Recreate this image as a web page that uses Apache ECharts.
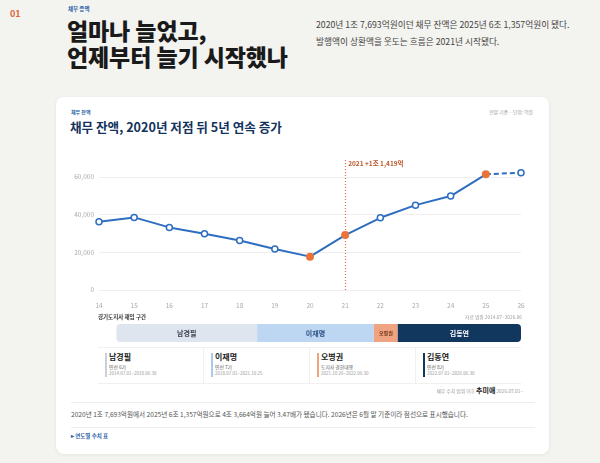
<!DOCTYPE html>
<html>
<head>
<meta charset="utf-8">
<script src="https://cdn.jsdelivr.net/npm/echarts@6/dist/echarts.min.js"></script>
<style>
	html, body { margin: 0; padding: 0; }
	body {
		width: 600px; height: 463px; overflow: hidden; position: relative;
		background: #f3f3ef;
		font-family: "Noto Sans CJK KR", "Noto Sans", sans-serif;
		color: #222;
	}
	.abs { position: absolute; white-space: nowrap; }
	#card {
		position: absolute; left: 56px; top: 97px; width: 493px; height: 357px;
		background: #fff; border-radius: 8px; box-shadow: 0 1px 4px rgba(0,0,0,0.06);
	}
	#main { position: absolute; left: 57px; top: 150px; width: 492px; height: 196px; }
	.rule { position: absolute; left: 71px; width: 464px; height: 1px; background: #eeeeee; }
	#terms { position: absolute; left: 98px; top: 347px; width: 423px; height: 35px;
		border-top: 1px solid #f0f0f0; border-bottom: 1px solid #f0f0f0; display: flex; }
	.term { flex: 1; position: relative; border-left: 1px solid #f0f0f0; }
	.term:first-child { border-left: none; }
	.term .bar { position: absolute; left: 7px; top: 5px; width: 1.5px; height: 24px; }
	.term .nm { position: absolute; left: 11px; top: 3px; font-size: 8px; font-weight: bold; color: #222; }
	.term .sub { position: absolute; left: 11px; top: 15px; font-size: 4.8px; color: #555; }
	.term .dt { position: absolute; left: 11px; top: 22px; font-size: 4.5px; color: #999; }
</style>
</head>
<body>
<div class="abs" style="left:10px;top:7px;font-size:9px;font-weight:bold;color:#e0683a;">01</div>
<div class="abs" style="left:68px;top:5px;font-size:5.5px;font-weight:bold;color:#2a5fa8;">채무 증액</div>
<div class="abs" style="left:67px;top:17px;font-size:23px;line-height:26px;font-weight:900;color:#1a1a1a;letter-spacing:-0.1px;">얼마나 늘었고,<br>언제부터 늘기 시작했나</div>
<div class="abs" style="left:316px;top:16px;font-size:8.7px;line-height:17px;color:#444;">2020년 1조 7,693억원이던 채무 잔액은 2025년 6조 1,357억원이 됐다.<br>발행액이 상환액을 웃도는 흐름은 2021년 시작됐다.</div>

<div id="card"></div>
<div class="abs" style="left:71px;top:108px;font-size:5px;font-weight:bold;color:#2a5fa8;">채무 잔액</div>
<div class="abs" style="left:70px;top:117px;font-size:12.6px;font-weight:bold;color:#13335c;">채무 잔액, 2020년 저점 뒤 5년 연속 증가</div>
<div class="abs" style="right:67px;top:108px;font-size:4.8px;color:#999;">연말 기준 · 단위: 억원</div>

<div id="main"></div>
<div class="abs" style="left:98px;top:313px;font-size:5.5px;font-weight:bold;color:#333;">경기도지사 재임 구간</div>
<div class="abs" style="right:78px;top:313px;font-size:4.8px;color:#999;">자료 범위 2014.07–2026.06</div>

<div id="terms"></div>
<div class="abs" style="right:77px;top:385px;font-size:4.8px;color:#999;">채무 수치 범위 이후 <b style="font-size:7px;color:#222;">추미애</b> 2026.07.01–</div>

<div class="rule" style="top:402px;"></div>
<div class="abs" style="left:71px;top:409px;font-size:6.6px;color:#555;">2020년 1조 7,693억원에서 2025년 6조 1,357억원으로 4조 3,664억원 늘어 3.47배가 됐습니다. 2026년은 6월 말 기준이라 점선으로 표시했습니다.</div>
<div class="rule" style="top:427px;"></div>
<div class="abs" style="left:71px;top:432px;font-size:5.5px;font-weight:bold;color:#2a5fa8;">▸ 연도별 수치 표</div>

<script>
	var years = ['14', '15', '16', '17', '18', '19', '20', '21', '22', '23', '24', '25', '26'];
	var debt = [36200, 38500, 33200, 29800, 26300, 21700, 17693, 29112, 38300, 45000, 49800, 61357, 62200]; //억원
	var yTicks = [0, 20000, 40000, 60000];
	var markYear = '21'; //발행액 > 상환액 시작
	var termNames = ['남경필', '이재명', '오병권', '김동연'];
	var termRoles = ['민선 6기', '민선 7기', '도지사 권한대행', '민선 8기'];
	var termStart = ['2014-07-01', '2018-07-01', '2021-10-26', '2022-07-01'];
	var termEnd = ['2018-06-30', '2021-10-25', '2022-06-30', '2026-06-30'];
	var termColors = ['#dfe5ee', '#bdd7f3', '#f0a380', '#12375f'];
	var termBarColors = ['#c9d0da', '#a9c9ee', '#eea37d', '#12375f'];
	var termText = ['#3a4250', '#2a4f80', '#6a3014', '#ffffff'];

	var blue = '#2e6ec0', orange = '#e8743b';
	var yMax = 70000;
	var minIdx = debt.indexOf(Math.min.apply(null, debt));
	var markIdx = years.indexOf(markYear);
	var lastFull = years.length - 2; //마지막 해는 6월 말 기준

	// 날짜 -> 축 값 (14.5 = 2014년 7월)
	function toAxis(str, nextDay) {
		var p = str.split('-');
		var d = new Date(+p[0], +p[1] - 1, +p[2] + (nextDay ? 1 : 0));
		var y = d.getFullYear();
		var s = new Date(y, 0, 1), e = new Date(y + 1, 0, 1);
		return y - 2000 + (d - s) / (e - s);
	}
	function jo(v) { //억 -> "1조 1,419억"
		var j = Math.floor(v / 10000), r = v % 10000;
		return (j ? j + '조 ' : '') + r.toLocaleString('en-US') + '억';
	}

	// 하단 카드
	var html = '';
	termNames.forEach(function(n, i) {
		html += '<div class="term"><div class="bar" style="background:' + termBarColors[i] + '"></div>' +
			'<div class="nm">' + n + '</div><div class="sub">' + termRoles[i] + '</div>' +
			'<div class="dt">' + termStart[i].replace(/-/g, '.') + '–' + termEnd[i].replace(/-/g, '.') + '</div></div>';
	});
	document.getElementById('terms').innerHTML = html;

	var solidData = debt.map(function(v, i) {
		if(i > lastFull) return '-';
		var hi = (i === minIdx || i === markIdx || i === lastFull);
		return {
			value: v,
			symbolSize: hi ? 8 : 6,
			itemStyle: hi ? { color: orange, borderColor: orange, borderWidth: 0 } : { color: '#fff', borderColor: blue, borderWidth: 1.5 }
		};
	});
	var dashData = debt.map(function(v, i) {
		if(i < lastFull) return '-';
		if(i === lastFull) return { value: v, symbolSize: 0 };
		return v;
	});
	var bandData = termNames.map(function(n, i) {
		return [toAxis(termStart[i]), toAxis(termEnd[i], true), i];
	});

	var myChart = echarts.init(document.getElementById('main'), null, { renderer: 'canvas' });
	var option = {
		animation: false,
		textStyle: { fontFamily: '"Noto Sans CJK KR", "Noto Sans", sans-serif' },
		grid: [
			{ left: 42, top: 8, width: 422, height: 132 },
			{ left: 42, top: 174, width: 422, height: 18 }
		],
		xAxis: [{
			type: 'category', gridIndex: 0, data: years, boundaryGap: false,
			axisLine: { show: false }, axisTick: { show: false },
			axisLabel: { color: '#aaa', fontSize: 6.5, margin: 12 }
		}, {
			type: 'value', gridIndex: 1, min: 14, max: 26, show: false
		}],
		yAxis: [{
			type: 'value', gridIndex: 0, min: 0, max: yMax, interval: yTicks[1] - yTicks[0],
			axisLine: { show: false }, axisTick: { show: false },
			axisLabel: {
				color: '#aaa', fontSize: 6.5, margin: 5, showMaxLabel: false,
				formatter: function(v) { return v.toLocaleString('en-US'); }
			},
			splitLine: { showMaxLine: false, lineStyle: { color: '#eeeeee', width: 1 } }
		}, {
			type: 'category', gridIndex: 1, data: ['재임'], show: false
		}],
		series: [{
			type: 'line', xAxisIndex: 0, yAxisIndex: 0,
			data: solidData, symbol: 'circle',
			lineStyle: { color: blue, width: 2 },
			z: 3,
			markLine: {
				silent: true, symbol: 'none', z: 1,
				lineStyle: { type: [1, 2], color: '#e5703a', width: 1.2, opacity: 1 },
				emphasis: { disabled: true },
				label: { show: false },
				data: [[{ coord: [markYear, 0], lineStyle: { color: '#e5703a' } }, { coord: [markYear, yMax] }]]
			},
			markPoint: {
				silent: true, symbol: 'circle', symbolSize: 0,
				label: {
					show: true, position: 'right', distance: 3,
					color: '#c0582a', fontSize: 6.5, fontWeight: 'bold',
					formatter: '20' + markYear + ' +' + jo(debt[markIdx] - debt[markIdx - 1])
				},
				data: [{ coord: [markYear, 67300] }]
			}
		}, {
			type: 'line', xAxisIndex: 0, yAxisIndex: 0,
			data: dashData, symbol: 'circle', symbolSize: 6,
			itemStyle: { color: '#fff', borderColor: blue, borderWidth: 1.5 },
			lineStyle: { color: blue, width: 2, type: [5, 3] },
			z: 2
		}, {
			type: 'custom', xAxisIndex: 1, yAxisIndex: 1,
			data: bandData,
			renderItem: function(params, api) {
				var i = api.value(2);
				var s = api.value(0), e = Math.min(api.value(1), 26);
				var p0 = api.coord([s, 0]), p1 = api.coord([e, 0]);
				var h = api.size([0, 1])[1];
				var r = [0, 0, 0, 0];
				if(i === 0) r = [4, 0, 0, 4];
				if(i === termNames.length - 1) r = [0, 4, 4, 0];
				var fs = (p1[0] - p0[0]) < 40 ? 5 : 7;
				return {
					type: 'group',
					children: [{
						type: 'rect',
						shape: { x: p0[0], y: p0[1] - h / 2, width: p1[0] - p0[0], height: h, r: r },
						style: { fill: termColors[i] }
					}, {
						type: 'text',
						style: {
							text: termNames[i], x: (p0[0] + p1[0]) / 2, y: p0[1],
							align: 'center', verticalAlign: 'middle',
							fill: termText[i], fontSize: fs, fontWeight: 'bold',
							fontFamily: '"Noto Sans CJK KR", sans-serif'
						}
					}]
				};
			}
		}]
	};
	myChart.setOption(option);
</script>
</body>
</html>
